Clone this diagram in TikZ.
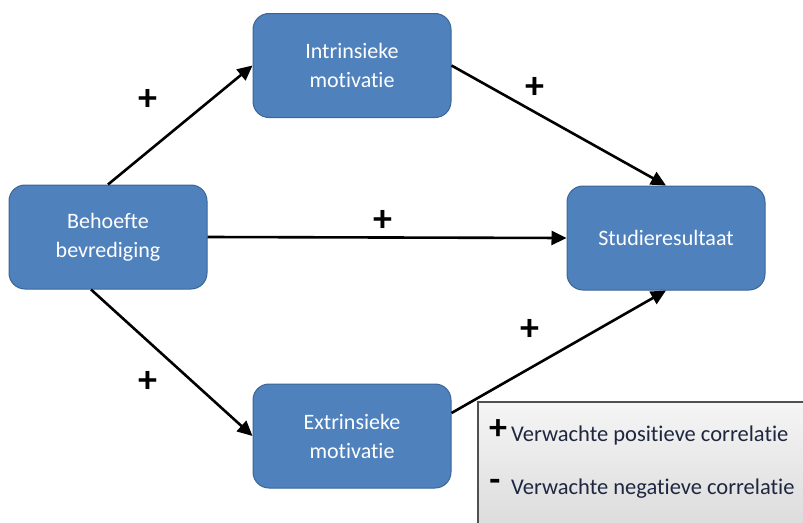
\documentclass[tikz,border=0pt]{standalone}
\usepackage{fontspec}
\setmainfont{Carlito}[Ligatures={NoCommon}]
\usetikzlibrary{arrows.meta,shadings}
\definecolor{boxfill}{HTML}{4F81BD}
\definecolor{boxline}{HTML}{3A6596}
\definecolor{legline}{HTML}{505050}
\definecolor{legtext}{HTML}{1F2740}
\tikzset{
  mbox/.style={draw=boxline, line width=1pt, fill=boxfill, rounded corners=16pt,
    minimum width=198pt, minimum height=104pt, align=center, text=white,
    font=\fontsize{22}{29}\selectfont, inner sep=0pt},
  conn/.style={line width=2.6pt, -{Triangle[length=15pt,width=14pt]}},
  sign/.style={font=\fontsize{38}{38}\selectfont\bfseries, inner sep=0pt},
  legtxt/.style={font=\fontsize{22.5}{25}\selectfont, text=legtext, anchor=west, inner sep=0pt}
}
\begin{document}
\begin{tikzpicture}[x=1pt,y=-1pt]
\useasboundingbox (0,0) rectangle (803,522);
\node[mbox] (intr) at (352,65.5) {Intrinsieke\\motivatie};
\node[mbox] (beh) at (108,237) {Behoefte\\bevrediging};
\node[mbox] (stud) at (666,238) {Studieresultaat};
\node[mbox] (extr) at (352,436) {Extrinsieke\\motivatie};
\draw[conn] (beh.north) -- (intr.west);
\draw[conn] (intr.east) -- (stud.north);
\draw[conn] (beh.east) -- (stud.west);
\draw[conn] ([xshift=-17pt]beh.south) -- (extr.west);
\draw[conn] ([yshift=23pt]extr.east) -- (stud.south);
\node[sign] (p1) at (148,100) {+};
\node[sign] (p2) at (535,88) {+};
\node[sign] (p3) at (383,221) {+};
\node[sign] (p4) at (148,382) {+};
\node[sign] (p5) at (530,330) {+};
\shade[top color=gray!8, bottom color=gray!28, draw=legline, line width=1.5pt] (478,402) rectangle (812,530);
\node[font=\fontsize{36}{36}\selectfont\bfseries, inner sep=0pt] (lp) at (498,430) {+};
\node[legtxt] (lt1) at (511,435) {Verwachte positieve correlatie};
\node[font=\fontsize{36}{36}\selectfont\bfseries, inner sep=0pt] (lm) at (495,485) {-};
\node[legtxt] (lt2) at (511,489) {Verwachte negatieve correlatie};
\end{tikzpicture}
\end{document}
